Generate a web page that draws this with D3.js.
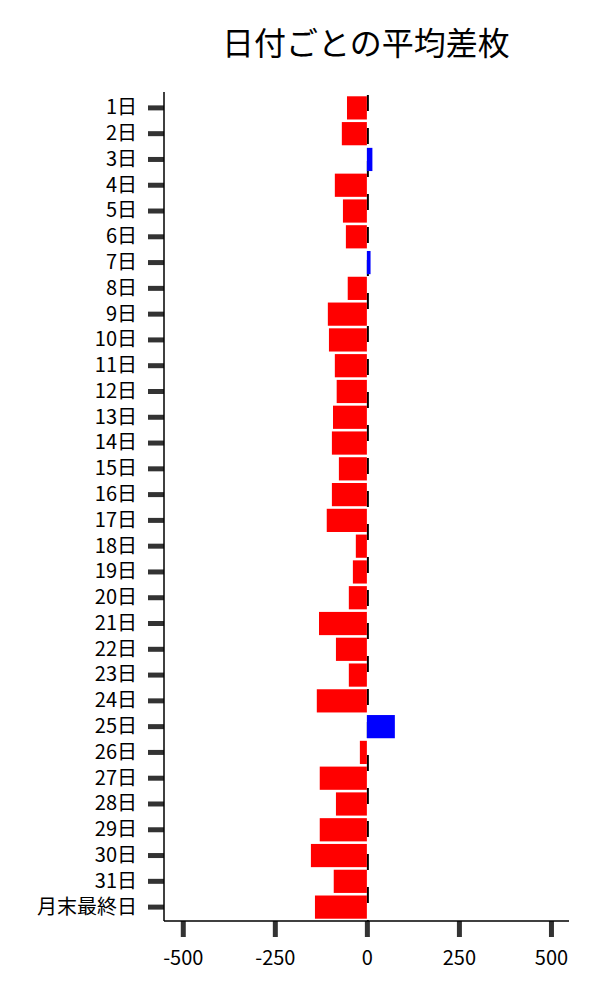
<!DOCTYPE html>
<html>
<head>
<meta charset="utf-8">
<script src="https://cdn.jsdelivr.net/npm/d3@7"></script>
<style>
    body { margin: 0; background: #fff; }
    #chart { width: 600px; height: 1000px; }
</style>
</head>
<body>
<div id="chart"></div>
<script>
// Day labels and average difference per day
const days = [
    "1日", "2日", "3日", "4日", "5日", "6日", "7日", "8日", "9日", "10日",
    "11日", "12日", "13日", "14日", "15日", "16日", "17日", "18日", "19日", "20日",
    "21日", "22日", "23日", "24日", "25日", "26日", "27日", "28日", "29日", "30日",
    "31日", "月末最終日"
];
const avgDiff = [
    -54, -68, 15, -87, -65, -57, 10, -52, -106, -103,
    -87, -82, -92, -95, -76, -95, -109, -30, -38, -49,
    -130, -84, -49, -136, 76, -19, -128, -84, -128, -152,
    -90, -141
];
const xTicks = [-500, -250, 0, 250, 500];

const width = 600;
const height = 1000;
const margin = { top: 92, right: 31, bottom: 79, left: 164 };
const font = "'Noto Sans CJK JP', 'Noto Sans', sans-serif";

const svg = d3.select("#chart")
    .append("svg")
    .attr("width", width)
    .attr("height", height)
    .style("font-family", font);

const data = days.map((d, i) => ({ day: d, value: avgDiff[i] }));

// Scales
const xScale = d3.scaleLinear()
    .domain([-551, 549])
    .range([margin.left, width - margin.right]);

const yScale = d3.scaleBand()
    .domain(days)
    .range([margin.top + 3, height - margin.bottom - 1])
    .paddingInner(0.1)
    .paddingOuter(0.05);

// Title
svg.append("text")
    .attr("x", xScale(0) - 1)
    .attr("y", 55)
    .attr("text-anchor", "middle")
    .attr("font-size", "32px")
    .attr("fill", "#000")
    .text("日付ごとの平均差枚");

// Zero line (dashed, behind the bars)
svg.append("line")
    .attr("x1", xScale(0) + 1)
    .attr("x2", xScale(0) + 1)
    .attr("y1", margin.top + 3)
    .attr("y2", height - margin.bottom)
    .attr("stroke", "#000")
    .attr("stroke-width", 2)
    .attr("stroke-dasharray", "16,17");

// Bars
svg.selectAll(".bar")
    .data(data)
    .join("rect")
    .attr("class", "bar")
    .attr("x", d => xScale(Math.min(0, d.value)))
    .attr("y", d => yScale(d.day))
    .attr("width", d => Math.abs(xScale(d.value) - xScale(0)))
    .attr("height", yScale.bandwidth())
    .attr("fill", d => d.value < 0 ? "#ff0000" : "#0000ff");

// Y axis
const yAxis = svg.append("g")
    .attr("transform", `translate(${margin.left},0)`)
    .call(d3.axisLeft(yScale).tickSize(16).tickPadding(11).tickSizeOuter(0));
yAxis.select(".domain").remove();
yAxis.selectAll(".tick line").attr("stroke", "#333").attr("stroke-width", 5);
yAxis.selectAll(".tick text")
    .attr("font-size", "20px")
    .attr("font-family", font)
    .attr("fill", "#000");

// X axis (plain hyphen minus, like the original)
const xAxis = svg.append("g")
    .attr("transform", `translate(0,${height - margin.bottom})`)
    .call(d3.axisBottom(xScale)
        .tickValues(xTicks)
        .tickFormat(d => String(d))
        .tickSize(16).tickPadding(14).tickSizeOuter(0));
xAxis.select(".domain").remove();
xAxis.selectAll(".tick line").attr("stroke", "#333").attr("stroke-width", 5);
xAxis.selectAll(".tick text")
    .attr("font-size", "20px")
    .attr("font-family", font)
    .attr("fill", "#000");

// Spines (left and bottom)
svg.append("line")
    .attr("x1", margin.left).attr("x2", margin.left)
    .attr("y1", margin.top).attr("y2", height - margin.bottom)
    .attr("stroke", "#000").attr("stroke-width", 1.5);
svg.append("line")
    .attr("x1", margin.left).attr("x2", width - margin.right)
    .attr("y1", height - margin.bottom).attr("y2", height - margin.bottom)
    .attr("stroke", "#000").attr("stroke-width", 1.5);
</script>
</body>
</html>
